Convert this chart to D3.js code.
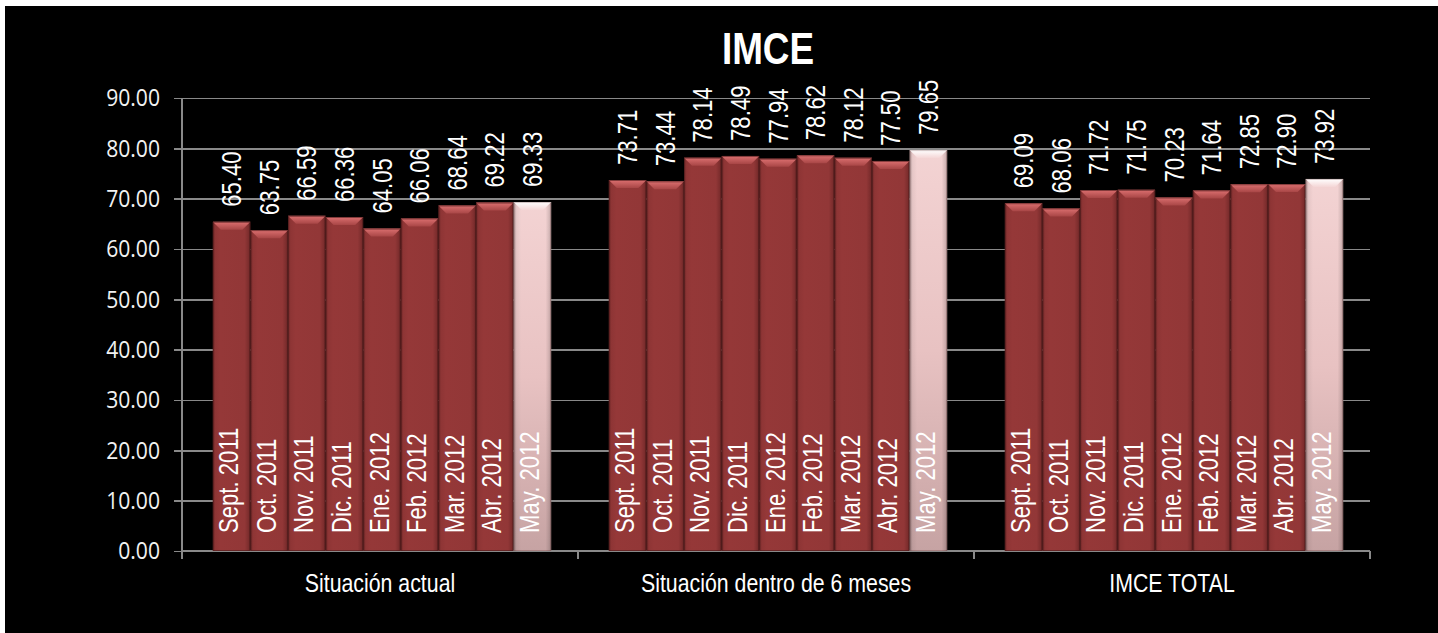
<!DOCTYPE html>
<html lang="es">
<head>
    <meta charset="UTF-8">
    <title>IMCE</title>
    <script src="https://d3js.org/d3.v7.min.js"></script>
    <style>
        body {
            margin: 0;
            padding: 0;
            background: #ffffff;
            overflow: hidden;
        }
        /* Arial Narrow look: Liberation Sans squeezed horizontally */
        .narrow {
            font-family: "Liberation Sans", Arial, sans-serif;
        }
        .axis path, .axis line {
            stroke: #898989;
            stroke-width: 1.6;
            shape-rendering: crispEdges;
        }
        .grid line {
            stroke: #898989;
            stroke-width: 1.6;
            shape-rendering: crispEdges;
        }
        .grid path { display: none; }
        .axis--y text {
            font-family: "Open Sans", sans-serif;
            font-size: 24px;
            fill: #f2f2f2;
        }
    </style>
</head>
<body>
    <svg id="chart" width="1438" height="633"></svg>

    <script>
        // data
        const groups = ['Situación actual', 'Situación dentro de 6 meses', 'IMCE TOTAL'];
        const months = ['Sept. 2011', 'Oct. 2011', 'Nov. 2011', 'Dic. 2011', 'Ene. 2012',
                        'Feb. 2012', 'Mar. 2012', 'Abr. 2012', 'May. 2012'];
        const actual = [65.40, 63.75, 66.59, 66.36, 64.05, 66.06, 68.64, 69.22, 69.33];
        const seisMeses = [73.71, 73.44, 78.14, 78.49, 77.94, 78.62, 78.12, 77.50, 79.65];
        const total = [69.09, 68.06, 71.72, 71.75, 70.23, 71.64, 72.85, 72.90, 73.92];
        const yTicks = [0, 10, 20, 30, 40, 50, 60, 70, 80, 90];

        const series = [actual, seisMeses, total];
        const rows = [];
        groups.forEach((g, gi) => {
            months.forEach((m, mi) => {
                rows.push({ group: g, month: m, value: series[gi][mi], last: mi === months.length - 1 });
            });
        });

        const squeeze = 0.82;

        const svg = d3.select("#chart");

        // black background panel
        svg.append("rect")
            .attr("x", 5).attr("y", 6)
            .attr("width", 1438 - 5).attr("height", 633 - 6)
            .attr("fill", "#000");

        const defs = svg.append("defs");

        // red bar body
        const gRed = defs.append("linearGradient").attr("id", "redBody")
            .attr("x1", "0").attr("x2", "1").attr("y1", "0").attr("y2", "0");
        [[0, "#6c2626"], [0.07, "#8e3535"], [0.2, "#953838"], [0.85, "#923737"], [0.95, "#7c2d2d"], [1, "#5e2020"]]
            .forEach(s => gRed.append("stop").attr("offset", s[0]).attr("stop-color", s[1]));

        const gRedTop = defs.append("linearGradient").attr("id", "redTop")
            .attr("x1", "0").attr("x2", "0").attr("y1", "0").attr("y2", "1");
        [[0, "#dc7070"], [1, "#a84646"]]
            .forEach(s => gRedTop.append("stop").attr("offset", s[0]).attr("stop-color", s[1]));

        // pink (latest month) bar
        const gPink = defs.append("linearGradient").attr("id", "pinkBody")
            .attr("x1", "0").attr("x2", "0").attr("y1", "0").attr("y2", "1");
        [[0, "#f3d3d3"], [0.5, "#e8c2c2"], [1, "#c6a3a3"]]
            .forEach(s => gPink.append("stop").attr("offset", s[0]).attr("stop-color", s[1]));

        const gEdge = defs.append("linearGradient").attr("id", "edgeShade")
            .attr("x1", "0").attr("x2", "1").attr("y1", "0").attr("y2", "0");
        [[0, "#000", 0.3], [0.08, "#000", 0.05], [0.2, "#000", 0], [0.85, "#000", 0], [0.95, "#000", 0.12], [1, "#000", 0.3]]
            .forEach(s => gEdge.append("stop").attr("offset", s[0]).attr("stop-color", s[1]).attr("stop-opacity", s[2]));

        const gPinkTop = defs.append("linearGradient").attr("id", "pinkTop")
            .attr("x1", "0").attr("x2", "0").attr("y1", "0").attr("y2", "1");
        [[0, "#ffffff"], [1, "#f4d6d6"]]
            .forEach(s => gPinkTop.append("stop").attr("offset", s[0]).attr("stop-color", s[1]));

        // scales
        const x0 = d3.scaleBand().domain(groups).range([182, 1370]).padding(0);
        const x1 = d3.scaleBand().domain(months).range([2, x0.bandwidth() + 2]).paddingInner(0).paddingOuter(0.766);
        const y = d3.scaleLinear().domain([0, 90]).range([551, 98]);

        // gridlines
        svg.append("g")
            .attr("class", "grid")
            .attr("transform", "translate(182,0)")
            .call(d3.axisRight(y).tickValues(yTicks.slice(1)).tickSize(1370 - 182).tickFormat(""));

        // y axis
        const yAxis = svg.append("g")
            .attr("class", "axis axis--y")
            .attr("transform", "translate(182,0)")
            .call(d3.axisLeft(y).tickValues(yTicks).tickSize(8).tickSizeOuter(0).tickPadding(14).tickFormat(d3.format(".2f")));
        yAxis.select(".domain").attr("d", "M0,98V559");
        yAxis.selectAll(".tick text")
            .attr("x", -22 / 0.88)
            .attr("transform", "scale(0.88,1)");

        // x axis: line with ticks at group edges
        const xAxis = svg.append("g").attr("class", "axis axis--x");
        xAxis.append("line").attr("x1", 182).attr("x2", 1370).attr("y1", y(0)).attr("y2", y(0));
        xAxis.selectAll(".sep")
            .data(groups.map(g => x0(g)).concat([x0(groups[groups.length - 1]) + x0.bandwidth()]))
            .enter().append("line")
            .attr("x1", d => d).attr("x2", d => d)
            .attr("y1", y(0)).attr("y2", y(0) + 8);

        // group labels
        svg.selectAll(".group-label")
            .data(groups)
            .enter().append("text")
            .attr("class", "narrow")
            .attr("transform", d => `translate(${x0(d) + x0.bandwidth() / 2},592) scale(${squeeze},1)`)
            .attr("text-anchor", "middle")
            .attr("fill", "#fff")
            .attr("font-size", 26)
            .text(d => d);

        // bars
        const bars = svg.selectAll(".bar")
            .data(rows)
            .enter().append("g")
            .attr("class", "bar")
            .attr("transform", d => `translate(${x0(d.group) + x1(d.month)},0)`);

        const bw = x1.bandwidth();
        const bevel = 8;

        bars.append("rect")
            .attr("x", 0)
            .attr("y", d => y(d.value))
            .attr("width", bw)
            .attr("height", d => y(0) - y(d.value))
            .attr("fill", d => d.last ? "url(#pinkBody)" : "url(#redBody)");

        bars.filter(d => d.last).append("rect")
            .attr("x", 0)
            .attr("y", d => y(d.value))
            .attr("width", bw)
            .attr("height", d => y(0) - y(d.value))
            .attr("fill", "url(#edgeShade)");

        bars.append("path")
            .attr("d", d => {
                const t = y(d.value);
                return `M0,${t}H${bw}L${bw - bevel},${t + bevel}H${bevel}Z`;
            })
            .attr("fill", d => d.last ? "url(#pinkTop)" : "url(#redTop)");

        bars.append("rect")
            .attr("x", 0.5)
            .attr("y", d => y(d.value) + 0.5)
            .attr("width", bw - 1)
            .attr("height", d => y(0) - y(d.value) - 1)
            .attr("fill", "none")
            .attr("stroke", "#4a1a1a")
            .attr("stroke-opacity", d => d.last ? 0.25 : 0.6)
            .attr("stroke-width", 1);

        // value labels above bars
        bars.append("text")
            .attr("class", "narrow")
            .attr("transform", d => `translate(${bw / 2 + 9.5},${y(d.value) - 15}) rotate(-90) scale(${squeeze},1)`)
            .attr("fill", "#fff")
            .attr("font-size", 27)
            .text(d => d.value.toFixed(2));

        // month labels inside bars
        bars.append("text")
            .attr("class", "narrow")
            .attr("transform", `translate(${bw / 2 + 6.5},${y(0) - 18}) rotate(-90) scale(${squeeze},1)`)
            .attr("fill", "#fff")
            .attr("font-size", 27)
            .text(d => d.month);

        // title
        svg.append("text")
            .attr("class", "narrow")
            .attr("transform", `translate(768,64) scale(${squeeze},1)`)
            .attr("text-anchor", "middle")
            .attr("fill", "#fff")
            .attr("font-size", 45)
            .attr("font-weight", "bold")
            .text("IMCE");
    </script>
</body>
</html>
